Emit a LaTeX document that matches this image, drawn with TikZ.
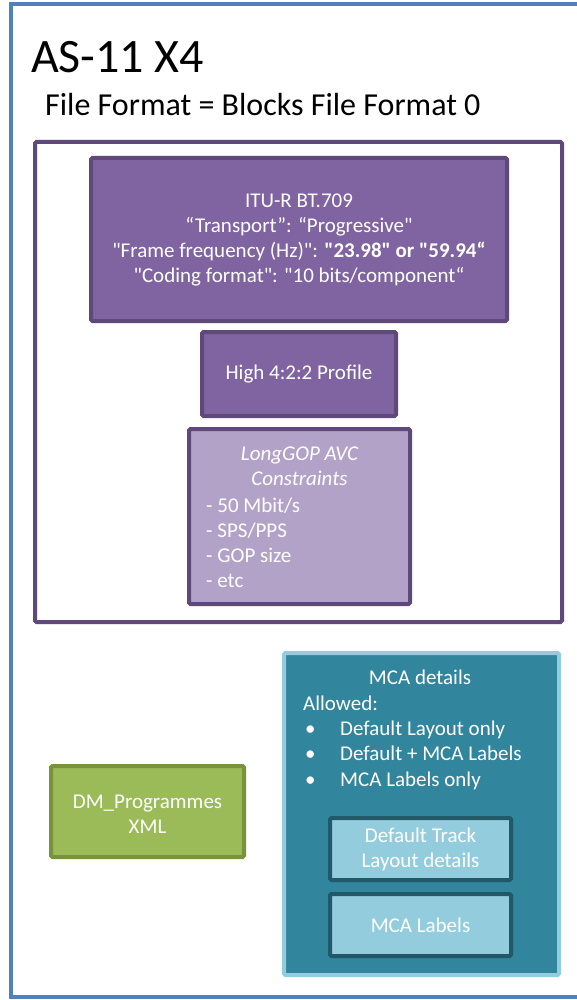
\documentclass[tikz,border=0pt]{standalone}
\usepackage{fontspec}
\setmainfont{Carlito}[Ligatures=TeXOff]
\definecolor{frameblue}{HTML}{4F81BD}
\definecolor{framepurple}{HTML}{5F497A}
\definecolor{boxpurple}{HTML}{8064A2}
\definecolor{boxlilac}{HTML}{B3A2C7}
\definecolor{boxteal}{HTML}{31859C}
\definecolor{paleteal}{HTML}{93CDDD}
\definecolor{darkteal}{HTML}{215968}
\definecolor{boxgreen}{HTML}{9BBB59}
\definecolor{darkgreen}{HTML}{77933C}
\begin{document}
\begin{tikzpicture}[x=1pt,y=-1pt,
  frame/.style={draw, line width=4pt, inner sep=0pt, fill=none},
  box/.style={draw, line width=4pt, inner sep=0pt, rounded corners=1.5pt,
    text=white, align=center, font=\fontsize{21}{25}\selectfont},
  label/.style={text=white, inner sep=0pt, font=\fontsize{21}{25}\selectfont}]
\clip (0,0) rectangle (577,1000);
\fill[white] (0,0) rectangle (577,1000);

% outer page frame (open to the right)
\node[frame, draw=frameblue, minimum width=584pt, minimum height=992pt] (page) at (303,500.5) {};

% headings
\node[anchor=base west, inner sep=0pt, font=\fontsize{48}{54}\selectfont] (title) at (31,73) {AS-11 X4};
\node[anchor=base west, inner sep=0pt, font=\fontsize{32}{38}\selectfont] (format) at (45,116) {File Format = Blocks File Format 0};

% video essence group
\node[frame, draw=framepurple, rounded corners=1.5pt, minimum width=527pt, minimum height=480pt] (video) at (298.5,382) {};

\node[box, draw=framepurple, fill=boxpurple, minimum width=416pt, minimum height=163pt] (itu) at (299,239.5)
  {ITU-R BT.709\\
   “Transport”: “Progressive"\\
   "Frame frequency (Hz)": \textbf{"23.98" or "59.94“}\\
   "Coding format": "10 bits/component“};

\node[box, draw=framepurple, fill=boxpurple, minimum width=194pt, minimum height=84pt] (profile) at (299,374) {High 4:2:2 Profile};

\node[box, draw=framepurple, fill=boxlilac, minimum width=221pt, minimum height=175pt] (avc) at (299.5,516.5) {};
\node[label, align=center, font=\fontsize{21}{25}\selectfont\itshape] (avctitle) at (299.5,466) {LongGOP AVC\\Constraints};
\node[label, anchor=base west] (avc1) at (206,512) {- 50 Mbit/s};
\node[label, anchor=base west] (avc2) at (206,537) {- SPS/PPS};
\node[label, anchor=base west] (avc3) at (206,562) {- GOP size};
\node[label, anchor=base west] (avc4) at (206,587) {- etc};

% metadata
\node[box, draw=darkgreen, fill=boxgreen, minimum width=193pt, minimum height=91pt] (dm) at (147.5,811.5) {};
\node[label, align=center] (dmtext) at (147.5,814) {DM\_Programmes\\XML};

% audio channel assignment
\node[box, draw=paleteal, fill=boxteal, minimum width=275pt, minimum height=322pt] (mca) at (421.5,814) {};
\node[label] (mcatitle) at (420,677) {MCA details};
\node[label, anchor=base west] (allowed) at (303,710) {Allowed:};
\node[label, anchor=base west] (b1) at (305,735) {•};
\node[label, anchor=base west] (o1) at (340,735) {Default Layout only};
\node[label, anchor=base west] (b2) at (305,760) {•};
\node[label, anchor=base west] (o2) at (340,760) {Default + MCA Labels};
\node[label, anchor=base west] (b3) at (305,786) {•};
\node[label, anchor=base west] (o3) at (340,786) {MCA Labels only};

\node[box, draw=darkteal, fill=paleteal, minimum width=181pt, minimum height=62pt] (track) at (420.5,849) {Default Track\\Layout details};
\node[box, draw=darkteal, fill=paleteal, minimum width=181pt, minimum height=62pt] (labels) at (420.5,925) {MCA Labels};
\end{tikzpicture}
\end{document}
